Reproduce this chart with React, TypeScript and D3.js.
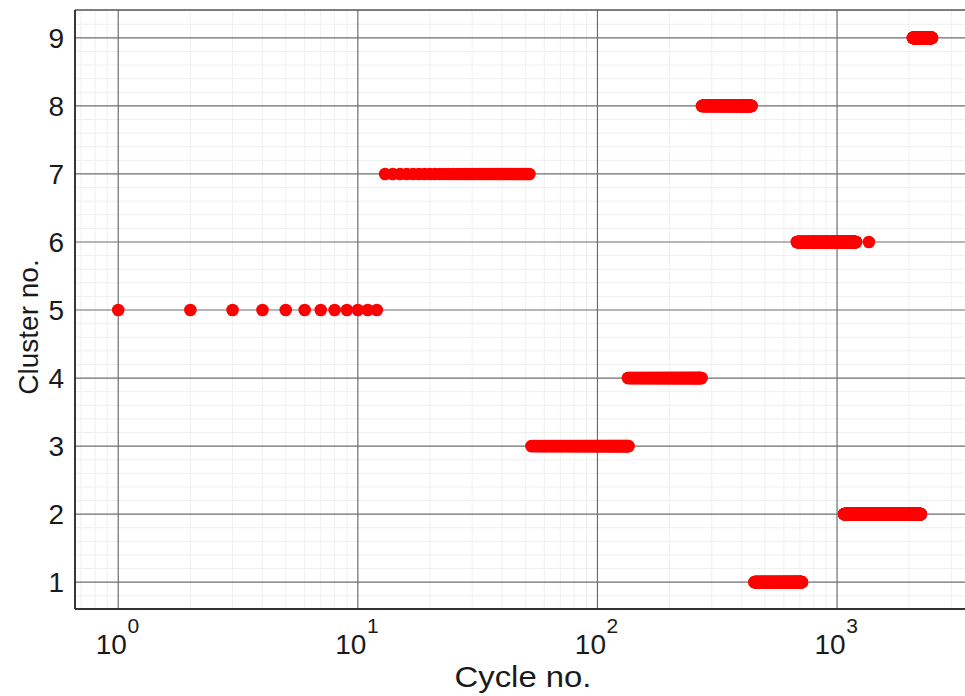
import React from "react";
import * as d3 from "d3";

// Cluster assignments: each cluster covers a span of cycle numbers
const clusterIds = [5, 7, 3, 4, 8, 1, 6, 2, 9];
const spanStart = [1, 13, 53, 134, 273, 452, 680, 1069, 2074];
const spanEnd = [12, 52, 135, 272, 440, 714, 1199, 2239, 2489];
// isolated extra points [cycle, cluster]
const extraCycles = [1358];
const extraClusters = [6];

const xTickExps = [0, 1, 2, 3];
const yTicks = [1, 2, 3, 4, 5, 6, 7, 8, 9];

const W = 965;
const H = 696;
const L = 75, R = 965, T = 10, B = 608;

export default function App() {
  const x = d3.scaleLog().domain([0.66, 3420]).range([L, R]);
  const y = d3.scaleLinear().domain([0.62, 9.41]).range([B, T]);

  const points: { c: number; k: number }[] = [];
  clusterIds.forEach((k, i) => {
    d3.range(spanStart[i], spanEnd[i] + 1).forEach((c) => points.push({ c, k }));
  });
  extraCycles.forEach((c, i) => points.push({ c, k: extraClusters[i] }));

  const minorX: number[] = [];
  [-1, 0, 1, 2, 3].forEach((e) => {
    for (let m = 1; m <= 9; m++) {
      const v = m * Math.pow(10, e);
      if (v >= 0.66 && v <= 3420 && m !== 1) minorX.push(v);
    }
  });
  const minorY = d3.range(0.8, 9.41, 0.2).filter((v) => Math.abs(v - Math.round(v)) > 0.01);

  const font = "'Liberation Sans', Arial, Helvetica, sans-serif";

  return (
    <svg width={W} height={H} style={{ position: "absolute", left: 0, top: 0, background: "#fff" }}>
      <rect x={L} y={T} width={R - L} height={B - T} fill="#fff" />
      {/* minor grid */}
      {minorX.map((v, i) => (
        <line key={"mx" + i} x1={x(v)} x2={x(v)} y1={T} y2={B} stroke="#f0f0f0" strokeWidth={1} />
      ))}
      {minorY.map((v, i) => (
        <line key={"my" + i} x1={L} x2={R} y1={y(v)} y2={y(v)} stroke="#f0f0f0" strokeWidth={1} />
      ))}
      {/* major grid */}
      {xTickExps.map((e) => (
        <line key={"gx" + e} x1={x(Math.pow(10, e))} x2={x(Math.pow(10, e))} y1={T} y2={B} stroke="#6e6e6e" strokeWidth={1.2} />
      ))}
      {yTicks.map((v) => (
        <line key={"gy" + v} x1={L} x2={R} y1={y(v)} y2={y(v)} stroke="#6e6e6e" strokeWidth={1.2} />
      ))}
      {/* points */}
      {points.map((p, i) => (
        <circle key={i} cx={x(p.c)} cy={y(p.k)} r={6.3} fill="#ff0000" />
      ))}
      {/* box */}
      <line x1={L} x2={R} y1={T} y2={T} stroke="#555" strokeWidth={1.5} />
      <line x1={L} x2={L} y1={T} y2={B + 1} stroke="#222" strokeWidth={1.8} />
      <line x1={L} x2={R} y1={B + 1} y2={B + 1} stroke="#333" strokeWidth={2} />
      {/* y tick labels */}
      {yTicks.map((v) => (
        <text key={"yl" + v} x={64} y={y(v)} dy="0.36em" textAnchor="end" fontFamily={font} fontSize={28} fill="#1a1a1a">
          {v}
        </text>
      ))}
      {/* x tick labels */}
      {xTickExps.map((e) => (
        <text key={"xl" + e} x={x(Math.pow(10, e)) - 7} y={654} textAnchor="middle" fontFamily={font} fontSize={28} fill="#1a1a1a">
          10
          <tspan x={x(Math.pow(10, e)) + 15} y={633} fontSize={21}>{e}</tspan>
        </text>
      ))}
      <text x={523} y={687} textAnchor="middle" fontFamily={font} fontSize={29} fill="#1a1a1a" textLength={137} lengthAdjust="spacingAndGlyphs">
        Cycle no.
      </text>
      <text transform={`translate(38, ${y(5) + 17}) rotate(-90)`} textAnchor="middle" fontFamily={font} fontSize={28} fill="#1a1a1a">
        Cluster no.
      </text>
    </svg>
  );
}
